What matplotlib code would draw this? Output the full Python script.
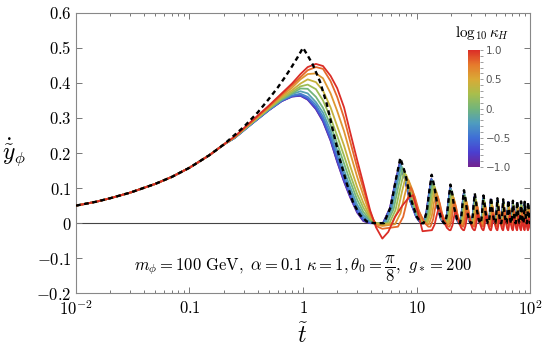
import numpy as np
import matplotlib.pyplot as plt
from matplotlib.colors import LinearSegmentedColormap, Normalize
from matplotlib.cm import ScalarMappable
from matplotlib.ticker import FixedLocator, NullFormatter

plt.rcParams['mathtext.fontset'] = 'cm'
plt.rcParams['font.family'] = 'DejaVu Serif'

# shared early rise (all curves coincide here)
t_rise = [0.01, 0.015, 0.02, 0.03, 0.05, 0.07, 0.1, 0.15, 0.2]
y_rise = [0.050, 0.061, 0.071, 0.087, 0.112, 0.132, 0.158, 0.194, 0.224]

# dashed reference curve, main hump
t_dash = [0.3, 0.4, 0.5, 0.6, 0.7, 0.8, 0.9, 1.0, 1.1, 1.22, 1.41, 1.62, 1.85,
          2.12, 2.43, 2.77, 3.18, 3.64, 4.2, 5.0]
y_dash = [0.274, 0.316, 0.354, 0.387, 0.418, 0.447, 0.474, 0.5, 0.478, 0.452,
          0.404, 0.34, 0.26, 0.18, 0.113, 0.058, 0.023, 0.005, 0.0, 0.0]

# coloured curves, main hump, log10 kappa_H = -1.0 ... 1.0
log_kappa = [-1.0, -0.8, -0.6, -0.4, -0.2, 0.0, 0.2, 0.4, 0.6, 0.8, 1.0]
t_hump = [0.25, 0.35, 0.5, 0.65, 0.8, 0.95, 1.1, 1.3, 1.5, 1.75, 2.0, 2.3, 2.6,
          3.0, 3.4, 3.9, 4.4, 5.0]
y_hump = [
    [0.243, 0.282, 0.322, 0.348, 0.361, 0.363, 0.352, 0.325, 0.290, 0.235, 0.175, 0.118, 0.074, 0.030, 0.006, 0.0, 0.0, 0.0],
    [0.243, 0.282, 0.322, 0.348, 0.361, 0.364, 0.353, 0.326, 0.292, 0.237, 0.177, 0.120, 0.076, 0.032, 0.007, 0.0, 0.0, 0.0],
    [0.243, 0.282, 0.322, 0.349, 0.362, 0.365, 0.355, 0.330, 0.296, 0.241, 0.182, 0.125, 0.081, 0.035, 0.010, 0.001, 0.0, 0.0],
    [0.243, 0.283, 0.323, 0.350, 0.364, 0.369, 0.360, 0.337, 0.304, 0.252, 0.194, 0.137, 0.091, 0.044, 0.016, 0.003, 0.0, 0.0],
    [0.244, 0.283, 0.324, 0.351, 0.368, 0.376, 0.370, 0.345, 0.315, 0.264, 0.208, 0.151, 0.103, 0.053, 0.023, 0.006, 0.0, 0.0],
    [0.244, 0.284, 0.325, 0.353, 0.370, 0.384, 0.383, 0.360, 0.329, 0.280, 0.227, 0.170, 0.120, 0.067, 0.032, 0.009, 0.0, 0.0],
    [0.244, 0.285, 0.327, 0.356, 0.374, 0.390, 0.395, 0.382, 0.350, 0.300, 0.249, 0.192, 0.139, 0.083, 0.044, 0.013, 0.0, -0.002],
    [0.245, 0.286, 0.328, 0.359, 0.379, 0.398, 0.410, 0.402, 0.378, 0.330, 0.277, 0.221, 0.164, 0.103, 0.058, 0.018, 0.0, -0.004],
    [0.246, 0.287, 0.331, 0.363, 0.386, 0.410, 0.425, 0.427, 0.413, 0.370, 0.320, 0.262, 0.201, 0.132, 0.079, 0.025, -0.004, -0.008],
    [0.246, 0.289, 0.333, 0.367, 0.393, 0.416, 0.436, 0.445, 0.440, 0.405, 0.360, 0.300, 0.234, 0.159, 0.098, 0.032, -0.008, -0.016],
    [0.247, 0.290, 0.335, 0.370, 0.398, 0.425, 0.445, 0.454, 0.448, 0.420, 0.385, 0.330, 0.260, 0.180, 0.113, 0.037, -0.012, -0.044],
]

# red curve (log10 kappa_H = 1): its first small bump after the dip
t_red_bump = [5.64, 6.47, 7.5, 8.5, 9.3, 10.2, 11.3]
y_red_bump = [-0.025, 0.018, 0.050, 0.072, 0.080, 0.035, -0.023]

# oscillating tail: peaks of the dashed curve
tail_peak_t = [7.2, 13.6, 19.9, 26.2, 32.6, 38.9, 45.3, 51.6, 58.0, 64.3, 70.7,
               77.0, 83.4, 89.7, 96.1, 102.5]
tail_peak_y = [0.186, 0.138, 0.110, 0.094, 0.085, 0.079, 0.074, 0.071, 0.068,
               0.066, 0.064, 0.063, 0.062, 0.061, 0.060, 0.059]
tail_period = 6.35
shape_phase = [-0.32, -0.2, -0.1, 0.0, 0.12, 0.25, 0.45, 0.6]
shape_level = [0.0, 0.25, 0.66, 1.0, 0.76, 0.4, 0.1, 0.0]

# per-curve tail: shift of peaks, height relative to dashed, trough level
tail_lag = [-0.1, -0.1, -0.05, 0.0, 0.15, 0.35, 0.6, 0.9, 1.3, 1.7, 2.1]
tail_ratio = [0.91, 0.91, 0.91, 0.9, 0.88, 0.85, 0.8, 0.74, 0.66, 0.55, 0.32]
tail_trough = [0.0, 0.0, 0.0, 0.0, 0.0, 0.0, 0.0, 0.0, -0.003, -0.01, -0.02]

cb_colors = ['#73238f', '#4a3fd0', '#3f6fd6', '#4e9cbf', '#73b57a',
             '#a8be4c', '#d9aa36', '#e67a2c', '#db2d27']
cmap = LinearSegmentedColormap.from_list('rainbow_m', cb_colors)
norm = Normalize(-1, 1)


def tail_points(lag, ratio, trough, first=0):
    ts, ys = [], []
    for p, h in zip(tail_peak_t[first:], tail_peak_y[first:]):
        for ph, lv in zip(shape_phase, shape_level):
            ts.append(p + lag + ph * tail_period)
            ys.append(trough + lv * (h * ratio - trough))
    return ts, ys


fig = plt.figure(figsize=(5.45, 3.61), dpi=100)
ax = fig.add_axes([0.1394, 0.1875, 0.8331, 0.7773])

ax.axhline(0, color='#444444', lw=0.8, zorder=1)

for i, lk in enumerate(log_kappa):
    if i == len(log_kappa) - 1:
        tt, yy = tail_points(tail_lag[i], tail_ratio[i], tail_trough[i], first=1)
        tt, yy = t_red_bump + tt, y_red_bump + yy
    else:
        tt, yy = tail_points(tail_lag[i], tail_ratio[i], tail_trough[i])
    t_all = t_rise + t_hump + tt
    y_all = y_rise + y_hump[i] + yy
    ax.plot(t_all, y_all, color=cmap(norm(lk)), lw=1.3, zorder=2 + i,
            solid_joinstyle='round')

tt, yy = tail_points(0.0, 1.0, 0.0)
ax.plot(t_rise + t_dash + tt, y_rise + y_dash + yy, color='black', lw=1.7,
        ls=(0, (2.0, 1.5)), zorder=20)

ax.set_xscale('log')
ax.set_xlim(0.01, 100)
ax.set_ylim(-0.2, 0.6)

ax.xaxis.set_major_locator(FixedLocator([0.01, 0.1, 1, 10, 100]))
ax.set_xticklabels([r'$10^{-2}$', r'$0.1$', r'$1$', r'$10$', r'$10^{2}$'])
minors = [m * 10.0 ** e for e in range(-2, 2) for m in range(2, 10)]
ax.xaxis.set_minor_locator(FixedLocator(minors))
ax.xaxis.set_minor_formatter(NullFormatter())
yt = [-0.2, -0.1, 0, 0.1, 0.2, 0.3, 0.4, 0.5, 0.6]
ax.yaxis.set_major_locator(FixedLocator(yt))
ax.set_yticklabels([r'$-0.2$', r'$-0.1$', r'$0$', r'$0.1$', r'$0.2$', r'$0.3$',
                    r'$0.4$', r'$0.5$', r'$0.6$'])
ax.tick_params(which='both', direction='in', top=True, right=True,
               color='#777777', labelsize=12, width=0.7)
ax.tick_params(which='major', length=4.5)
ax.tick_params(axis='x', which='major', pad=5)
ax.tick_params(axis='y', which='major', pad=3)
ax.tick_params(which='minor', length=2.5)
for s in ax.spines.values():
    s.set_color('#888888')
    s.set_linewidth(0.8)

ax.set_xlabel(r'$\tilde{t}$', fontsize=17, labelpad=3)
ax.set_ylabel(r'$\dot{\tilde{y}}_{\phi}$', fontsize=17, rotation=0, labelpad=16,
              va='center')

ax.text(1.0, -0.13, r'$m_\phi = 100\ \mathrm{GeV},\ \alpha = 0.1\ \kappa = 1, \theta_0 = \dfrac{\pi}{8},\ g_* = 200$',
        ha='center', va='center', fontsize=12)

cax = fig.add_axes([0.8587, 0.5374, 0.022, 0.324])
cb = fig.colorbar(ScalarMappable(norm=norm, cmap=cmap), cax=cax)
cb.outline.set_visible(False)
cb.set_ticks([-1, -0.5, 0, 0.5, 1])
cb.set_ticklabels(['\u22121.0', '\u22120.5', '0.', '0.5', '1.0'])
cb.ax.yaxis.set_minor_locator(FixedLocator(np.arange(-1, 1.01, 0.1)))
cax.tick_params(which='both', labelsize=7.5, colors='#777777', length=2,
                width=0.5, pad=2)
for lab in cax.get_yticklabels():
    lab.set_family('DejaVu Sans')
    lab.set_color('#555555')
fig.text(0.885, 0.908, r'$\log_{10}\kappa_H$', ha='center', va='center',
         fontsize=11)

fig.savefig('out.png', dpi=100)
